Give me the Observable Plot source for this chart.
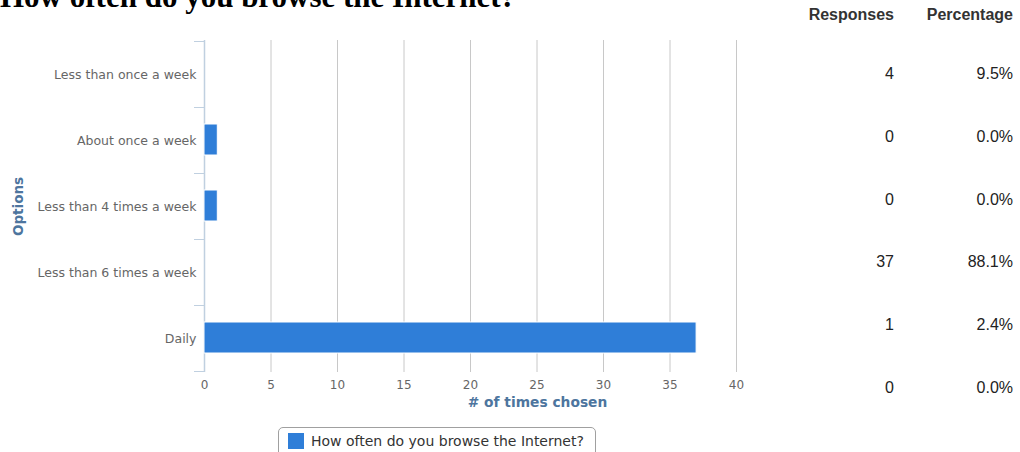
<!DOCTYPE html>
<html>
<head>
<meta charset="utf-8">
<script src="https://cdn.jsdelivr.net/npm/d3@7"></script>
<script src="https://cdn.jsdelivr.net/npm/@observablehq/plot@0.6"></script>
<style>
  html, body { margin: 0; padding: 0; background: #fff; }
  #wrap { position: relative; width: 1020px; height: 452px; overflow: hidden; }
  #title { position: absolute; left: 0; top: -19px; font: bold 31px/31px "Liberation Serif", "Times New Roman", serif; color: #000; white-space: nowrap; }
  #chart { position: absolute; left: 0; top: 0; }
  #legend { position: absolute; left: 278px; top: 427px; width: 318px; height: 32px; border: 1px solid #a0a0a0; border-radius: 5px; box-sizing: border-box; }
  #legend > div { position: absolute; left: 9px; top: -4px; width: 305px; }
  #legend, #legend * { white-space: nowrap; }
  #table { position: absolute; top: 0; left: 780px; font-family: "Liberation Sans", Arial, sans-serif; font-size: 16px; color: #222; }
  .cell { position: absolute; text-align: right; white-space: nowrap; line-height: 18px; }
  .hdr { font-weight: bold; color: #333; }
</style>
</head>
<body>
<div id="wrap">
  <div id="title"></div>
  <div id="chart"></div>
  <div id="legend"></div>
  <div id="table"></div>
</div>
<script>
// ---- data ----
const titleText = "How often do you browse the Internet?";
const categories = ["Less than once a week", "About once a week", "Less than 4 times a week", "Less than 6 times a week", "Daily"];
const counts = [0, 1, 1, 0, 37];
const xTicks = [0, 5, 10, 15, 20, 25, 30, 35, 40];
const xLabel = "# of times chosen";
const yLabel = "Options";
const seriesName = "How often do you browse the Internet?";
const tableHeaders = ["Responses", "Percentage"];
const tableResponses = [4, 0, 0, 37, 1, 0];
const tablePercentages = ["9.5%", "0.0%", "0.0%", "88.1%", "2.4%", "0.0%"];

const barColor = "#2f7ed8";
const rows = categories.map((c, i) => ({option: c, count: counts[i]}));

document.getElementById("title").textContent = titleText;

// y-axis boundary tick marks (Highcharts-style, at band edges)
function bandEdgeTicks(...args) {
  const scales = args.find(a => a && typeof a.y === "function");
  const dims = args.find(a => a && a.marginLeft !== undefined && a.width !== undefined);
  const y = scales.y;
  const step = typeof y.step === "function" ? y.step() : (dims.height - dims.marginTop - dims.marginBottom) / categories.length;
  const starts = categories.map(c => y(c));
  const edges = starts.concat([starts[starts.length - 1] + step]);
  const g = d3.create("svg:g").attr("stroke", "#c0d0e0").attr("stroke-width", 1);
  for (const e of edges) {
    g.append("line")
      .attr("x1", dims.marginLeft - 10).attr("x2", dims.marginLeft)
      .attr("y1", Math.round(e) + 0.5).attr("y2", Math.round(e) + 0.5);
  }
  return g.node();
}

const chart = Plot.plot({
  width: 1020,
  height: 420,
  marginLeft: 204,
  marginRight: 284,
  marginTop: 40,
  marginBottom: 48,
  style: {background: "transparent", fontFamily: "'DejaVu Sans', sans-serif", overflow: "visible"},
  x: {domain: [0, 40], ticks: xTicks},
  y: {domain: categories, padding: 0},
  marks: [
    Plot.gridX(xTicks.filter(t => t > 0), {stroke: "#c8c8c8", strokeOpacity: 1}),
    Plot.ruleX([0], {stroke: "#c0d0e0", strokeWidth: 1.5}),
    bandEdgeTicks,
    Plot.barX(rows, {x: "count", y: "option", fill: barColor, stroke: "#fff", strokeWidth: 1, insetTop: 17, insetBottom: 18}),
    Plot.axisX({ticks: xTicks, tickSize: 0, tickPadding: 8, fontSize: 12, fill: "#666", label: null}),
    Plot.axisY({tickSize: 0, tickPadding: 8, fontSize: 12.5, fill: "#666", label: null}),
    Plot.text([xLabel], {frameAnchor: "bottom", dx: 67, dy: 34, fontSize: 13.8, fontWeight: "bold", fill: "#4d759e"}),
    Plot.text([yLabel], {frameAnchor: "left", textAnchor: "middle", dx: -186, rotate: -90, fontSize: 13.5, fontWeight: "bold", fill: "#4d759e"})
  ]
});
document.getElementById("chart").appendChild(chart);

// legend
const leg = Plot.legend({
  color: {type: "categorical", domain: [seriesName], range: [barColor]},
  swatchSize: 16,
  style: {fontFamily: "'DejaVu Sans', sans-serif", fontSize: "14px", color: "#333", margin: 0}
});
document.getElementById("legend").appendChild(leg);

// table
const table = document.getElementById("table");
const colRight = [114, 233];
tableHeaders.forEach((h, j) => {
  const d = document.createElement("div");
  d.className = "cell hdr";
  d.textContent = h;
  d.style.right = (-colRight[j]) + "px";
  d.style.top = "6px";
  table.appendChild(d);
});
tableResponses.forEach((v, i) => {
  const top = 65 + i * 62.8;
  [String(v), tablePercentages[i]].forEach((t, j) => {
    const d = document.createElement("div");
    d.className = "cell";
    d.textContent = t;
    d.style.right = (-colRight[j]) + "px";
    d.style.top = top + "px";
    table.appendChild(d);
  });
});
</script>
</body>
</html>
